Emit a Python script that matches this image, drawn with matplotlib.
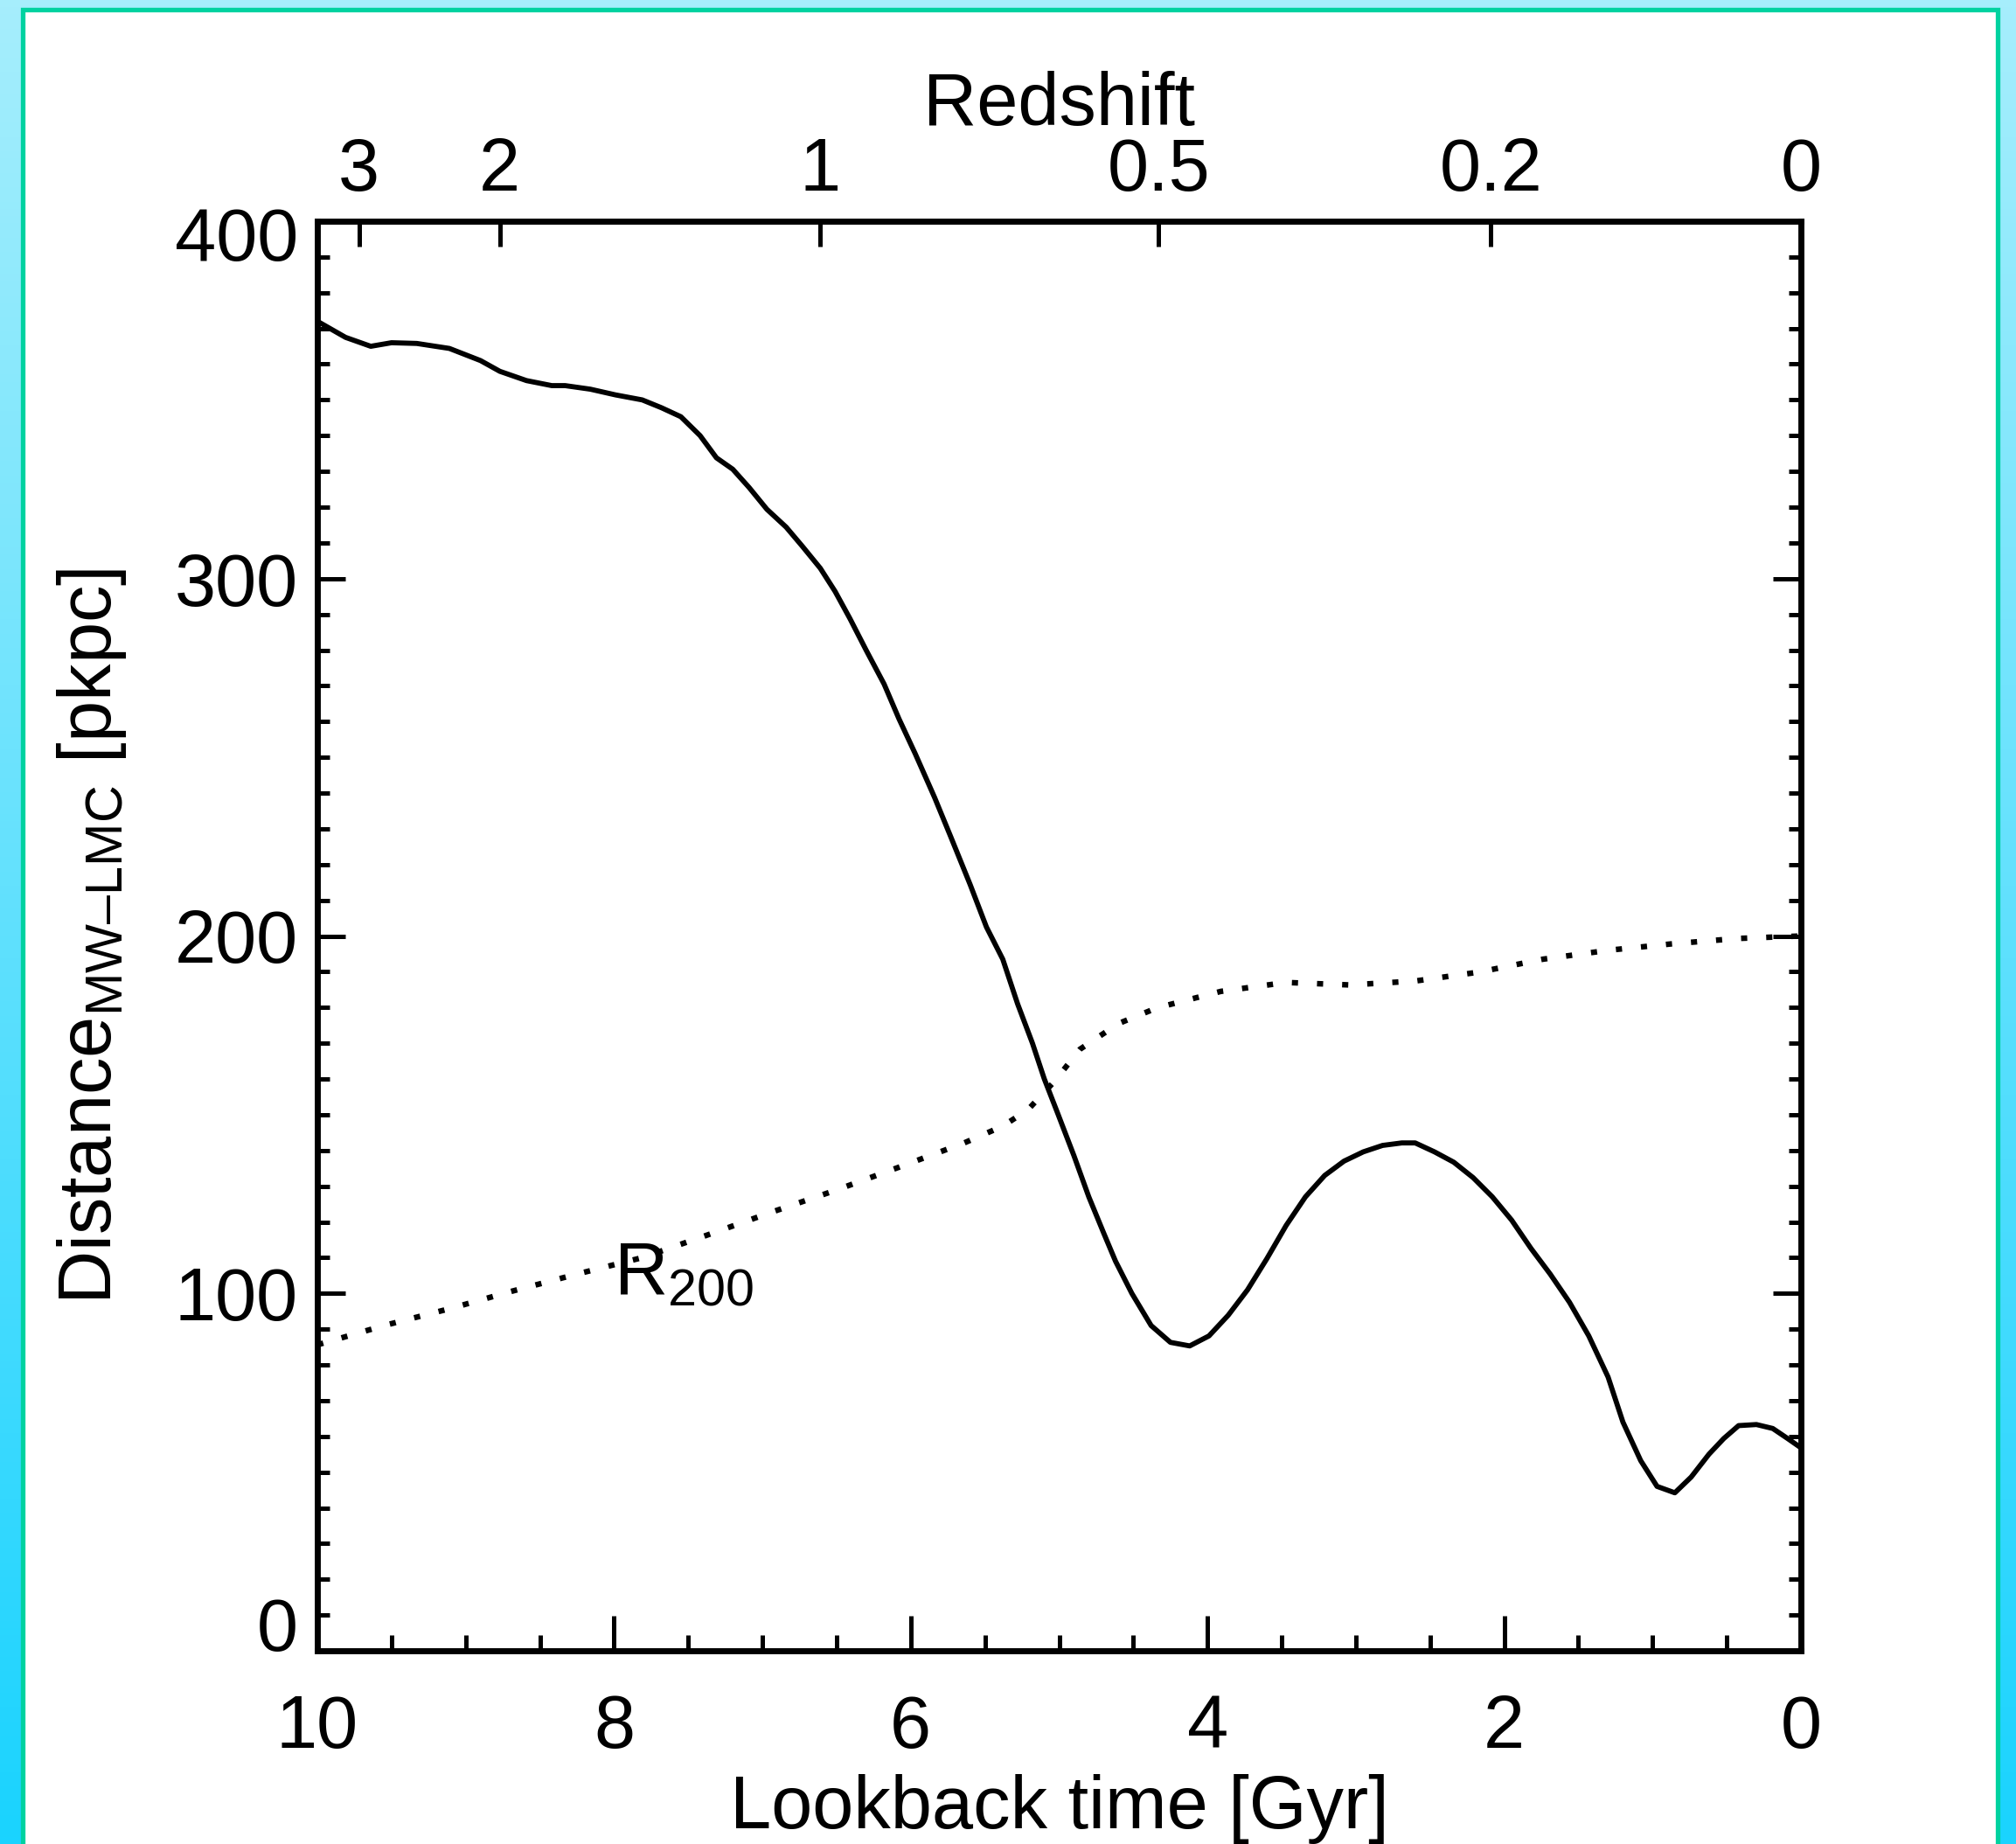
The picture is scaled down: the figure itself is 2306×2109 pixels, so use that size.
import numpy as np
import matplotlib
matplotlib.use("Agg")
import matplotlib.pyplot as plt
from matplotlib.patches import Rectangle
from matplotlib.ticker import MultipleLocator
from matplotlib.transforms import ScaledTranslation

plt.rcParams['font.family'] = ['Liberation Sans', 'DejaVu Sans']
plt.rcParams['mathtext.fontset'] = 'custom'
plt.rcParams['mathtext.rm'] = 'Liberation Sans'
plt.rcParams['mathtext.default'] = 'regular'

# MW-LMC separation vs lookback time
lookback = [10.0, 9.81, 9.64, 9.50, 9.33, 9.11, 8.90, 8.77, 8.59, 8.42, 8.33, 8.16,
            7.99, 7.81, 7.68, 7.55, 7.42, 7.31, 7.20, 7.09, 6.97, 6.84, 6.73, 6.61,
            6.51, 6.41, 6.30, 6.18, 6.08, 5.97, 5.84, 5.73, 5.60, 5.49, 5.38, 5.28,
            5.18, 5.10, 5.01, 4.90, 4.80, 4.70, 4.62, 4.51, 4.38, 4.25, 4.12, 3.99,
            3.86, 3.73, 3.60, 3.47, 3.34, 3.21, 3.08, 2.95, 2.82, 2.69, 2.60, 2.47,
            2.34, 2.21, 2.08, 1.95, 1.82, 1.69, 1.56, 1.43, 1.30, 1.20, 1.08, 0.97,
            0.85, 0.74, 0.62, 0.52, 0.42, 0.30, 0.19, 0.09, 0.0]
distance = [372.0, 367.5, 365.0, 366.0, 365.8, 364.4, 361.0, 358.0, 355.4, 354.0, 354.0, 353.0,
            351.4, 350.0, 347.8, 345.3, 340.0, 333.8, 330.6, 325.5, 319.4, 314.4, 309.0, 302.9,
            296.4, 288.8, 279.9, 270.5, 260.8, 251.0, 238.8, 227.7, 214.4, 202.5, 193.5, 181.0,
            170.0, 160.0, 150.4, 138.5, 127.0, 116.9, 109.0, 100.0, 91.0, 86.3, 85.3, 88.1,
            93.9, 101.0, 109.7, 119.0, 127.0, 133.0, 137.0, 139.6, 141.4, 142.1, 142.1, 139.6,
            136.7, 132.4, 127.0, 120.5, 112.6, 105.4, 97.5, 88.1, 76.6, 64.0, 53.2, 46.0,
            44.2, 48.6, 55.0, 59.4, 63.0, 63.3, 62.2, 59.4, 56.8]

# R200 of the MW halo
r200_time = [10.0, 9.55, 9.11, 8.68, 8.25, 7.81, 7.38, 6.94, 6.51, 6.08, 5.64, 5.38,
             5.21, 5.03, 4.86, 4.60, 4.34, 3.91, 3.47, 3.04, 2.60, 2.17, 1.74, 1.30,
             0.87, 0.43, 0.0]
r200 = [85.6, 91.0, 95.7, 100.7, 105.4, 110.0, 116.2, 122.7, 128.8, 135.3, 142.1, 146.8,
        151.4, 159.4, 168.3, 175.5, 179.9, 184.5, 187.0, 186.3, 187.4, 189.9, 193.5, 196.0,
        197.8, 199.3, 200.0]

# redshift axis
z_labels = ['3', '2', '1', '0.5', '0.2', '0']
z_lookback = [9.72, 8.77, 6.61, 4.33, 2.09, 0.0]

x_ticks = [10, 8, 6, 4, 2, 0]
y_ticks = [0, 100, 200, 300, 400]

W, H = 2306, 2109
fig = plt.figure(figsize=(W / 100, H / 100), dpi=100)

# background: cyan gradient + framed white panel
bg = fig.add_axes([0, 0, 1, 1])
bg.set_axis_off()
top = np.array([166, 238, 252]) / 255
bot = np.array([26, 211, 255]) / 255
f = np.linspace(0, 1, 256)[:, None]
grad = top[None, :] * (1 - f) + bot[None, :] * f
bg.imshow(grad[:, None, :], aspect='auto', extent=[0, 1, 0, 1], origin='upper')
bg.add_patch(Rectangle((25.5 / W, -0.02), (2284.5 - 25.5) / W, (H - 10.5) / H + 0.02,
                       facecolor='white', edgecolor='#00d2a0', linewidth=3.8,
                       transform=bg.transAxes))
bg.set_xlim(0, 1)
bg.set_ylim(0, 1)

ax = fig.add_axes([363 / W, (H - 1888) / H, (2060 - 363) / W, (1888 - 253) / H])
ax.plot(lookback, distance, color='black', lw=4.2)
ax.plot(r200_time, r200, color='black', lw=4.6, linestyle=(0, (1.1, 3.4)),
        dash_capstyle='butt')
ax.text(8.0, 99.7, 'R$_{200}$', fontsize=61, ha='left', va='baseline')

ax.set_xlim(10, 0)
ax.set_ylim(0, 400)
ax.set_xticks(x_ticks)
ax.set_xticklabels([str(v) for v in x_ticks])
ax.set_yticks(y_ticks)
ax.set_yticklabels([str(v) for v in y_ticks])
ax.xaxis.set_minor_locator(MultipleLocator(0.5))
ax.yaxis.set_minor_locator(MultipleLocator(10))

for s in ax.spines.values():
    s.set_linewidth(4.7)

ax.tick_params(axis='x', which='both', direction='in', top=False, bottom=True,
               width=3.6, labelsize=61, pad=35)
ax.tick_params(axis='x', which='major', length=29)
ax.tick_params(axis='x', which='minor', length=13)
ax.tick_params(axis='y', which='both', direction='in', left=True, right=True,
               width=3.6, labelsize=61, pad=16)
ax.tick_params(axis='y', which='major', length=23)
ax.tick_params(axis='y', which='minor', length=10)

yt = ax.yaxis.get_major_ticks()
yt[0].label1.set_va('baseline')
yt[-1].label1.set_va('top')
yt[-1].label1.set_transform(yt[-1].label1.get_transform()
                            + ScaledTranslation(0, 0.17, fig.dpi_scale_trans))

ax.set_xlabel('Lookback time [Gyr]', fontsize=61)
ax.xaxis.set_label_coords(0.5, -0.086)
ax.set_ylabel('Distance$_{MW\u2013LMC}$ [pkpc]', fontsize=61)
ax.yaxis.set_label_coords(-0.127, 0.5)

ax2 = ax.twiny()
ax2.set_xlim(ax.get_xlim())
ax2.set_xticks(z_lookback)
ax2.set_xticklabels(z_labels)
ax2.tick_params(axis='x', which='major', direction='in', length=21, width=3.6,
                labelsize=61, pad=12)
ax2.tick_params(axis='x', which='minor', top=False, bottom=False)
for s in ax2.spines.values():
    s.set_linewidth(4.7)
ax2.set_xlabel('Redshift', fontsize=61)
ax2.xaxis.set_label_coords(0.5, 1.067)

fig.savefig('out.png', dpi=100)
